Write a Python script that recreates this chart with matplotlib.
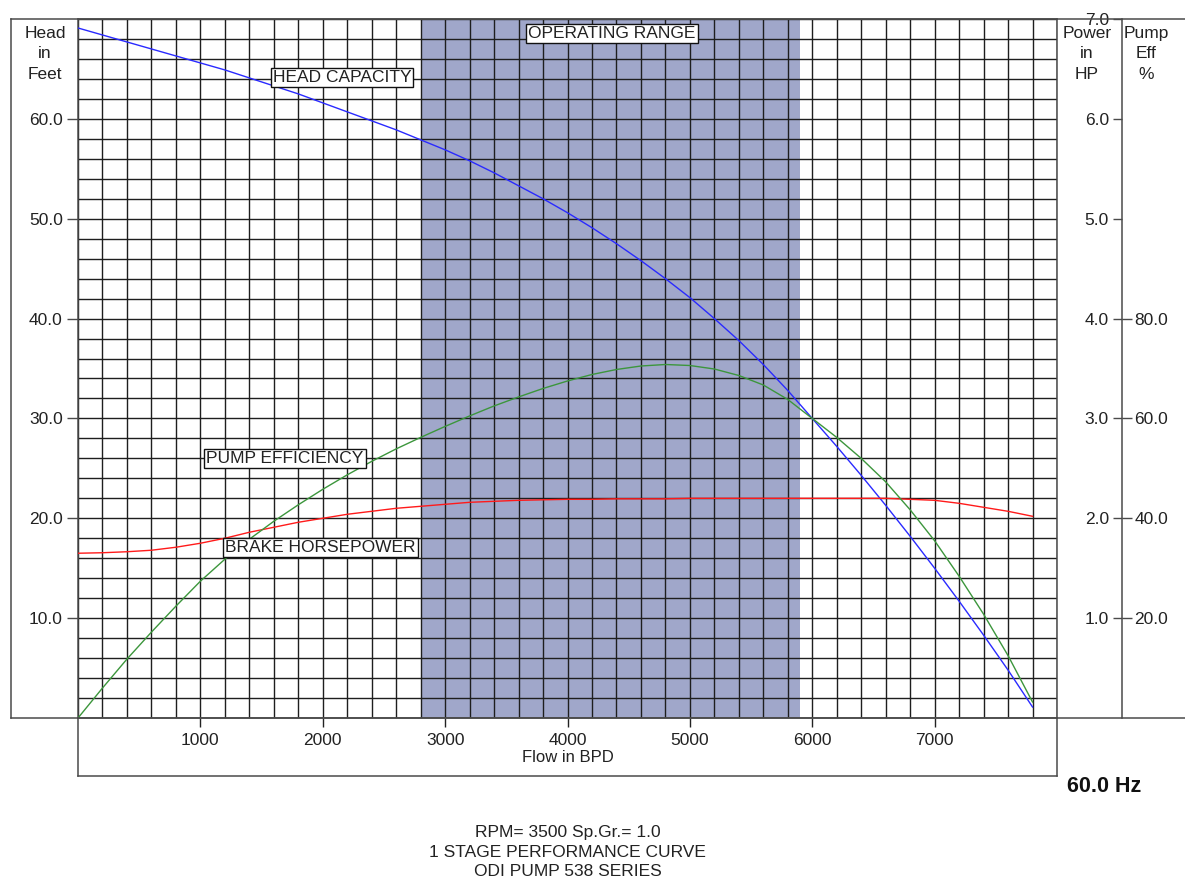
import matplotlib
matplotlib.use("Agg")
import matplotlib.pyplot as plt
from matplotlib.ticker import MultipleLocator, FixedLocator, FormatStrFormatter
from matplotlib.transforms import Affine2D
from matplotlib.lines import Line2D

plt.rcParams['font.family'] = ['Liberation Sans', 'DejaVu Sans']

# ---------------- data ----------------
flow_bpd = [0, 200, 400, 600, 800, 1000, 1200, 1400, 1600, 1800,
            2000, 2200, 2400, 2600, 2800, 3000, 3200, 3400, 3600, 3800,
            4000, 4200, 4400, 4600, 4800, 5000, 5200, 5400, 5600, 5800,
            6000, 6200, 6400, 6600, 6800, 7000, 7200, 7400, 7600, 7800]
head_ft = [69.1, 68.4, 67.7, 67.0, 66.3, 65.6, 64.9, 64.1, 63.3, 62.5,
           61.6, 60.7, 59.8, 58.9, 57.9, 56.9, 55.8, 54.6, 53.3, 52.0,
           50.6, 49.1, 47.5, 45.8, 44.0, 42.1, 40.0, 37.8, 35.4, 32.8,
           30.0, 27.2, 24.3, 21.3, 18.2, 15.0, 11.7, 8.3, 4.8, 1.1]
pump_eff_pct = [0.0, 6.0, 11.8, 17.2, 22.4, 27.4, 31.8, 35.8, 39.4, 42.7,
                45.8, 48.7, 51.4, 53.9, 56.2, 58.4, 60.5, 62.5, 64.3, 66.0,
                67.5, 68.8, 69.8, 70.5, 70.8, 70.6, 69.9, 68.6, 66.7, 63.8,
                60.0, 56.2, 52.0, 47.3, 41.7, 35.5, 28.4, 20.8, 12.5, 3.2]
brake_hp = [1.65, 1.655, 1.665, 1.68, 1.71, 1.75, 1.80, 1.86, 1.91, 1.96,
            2.00, 2.04, 2.07, 2.10, 2.12, 2.14, 2.16, 2.17, 2.18, 2.185,
            2.19, 2.19, 2.195, 2.195, 2.195, 2.20, 2.20, 2.20, 2.20, 2.20,
            2.20, 2.20, 2.20, 2.20, 2.19, 2.18, 2.15, 2.11, 2.07, 2.02]

operating_range = [2800, 5900]
x_ticks = [1000, 2000, 3000, 4000, 5000, 6000, 7000]
head_ticks = [10, 20, 30, 40, 50, 60]
power_ticks = [1, 2, 3, 4, 5, 6, 7]
eff_ticks = [20, 40, 60, 80]
curve_labels = ["HEAD CAPACITY", "PUMP EFFICIENCY", "BRAKE HORSEPOWER", "OPERATING RANGE"]
title_lines = ["RPM= 3500 Sp.Gr.= 1.0", "1 STAGE PERFORMANCE CURVE", "ODI PUMP 538 SERIES"]

# ---------------- layout ----------------
W, H = 1185, 880
fig = plt.figure(figsize=(W / 100, H / 100), dpi=100)
pix = Affine2D().scale(1 / W, -1 / H).translate(0, 1) + fig.transFigure

L, R, T, B = 78, 1057, 19, 718
SEP = 1122
ax = fig.add_axes([L / W, 1 - B / H, (R - L) / W, (B - T) / H])
ax.set_xlim(0, 8000)
ax.set_ylim(0, 70)

TXT = '#222222'
GRID = '#1e1e1e'
FRAME = '#4a4a4a'
FS = 12.5

ax.axvspan(operating_range[0], operating_range[1], color='#A0A7CA', zorder=0, lw=0)

ax.xaxis.set_major_locator(FixedLocator(x_ticks))
ax.xaxis.set_minor_locator(MultipleLocator(200))
ax.yaxis.set_major_locator(FixedLocator(head_ticks))
ax.yaxis.set_minor_locator(MultipleLocator(2))
ax.yaxis.set_major_formatter(FormatStrFormatter('%.1f'))
ax.grid(which='both', color=GRID, lw=1.0)
ax.tick_params(axis='x', which='major', direction='out', length=6.5, width=1.0,
               color=TXT, labelsize=FS, labelcolor=TXT, pad=4)
ax.tick_params(axis='y', which='major', direction='out', length=8, width=1.0,
               color=FRAME, labelsize=FS, labelcolor=TXT, pad=3)
ax.tick_params(which='minor', length=0)
for s in ax.spines.values():
    s.set_color(FRAME)
    s.set_linewidth(1.1)

sep_frac = (SEP - L) / (R - L)

# power axis (labels to the left of separator)
ax_p = ax.twinx()
ax_p.set_ylim(0, 7)
for s in ax_p.spines.values():
    s.set_visible(False)
ax_p.spines['left'].set_visible(True)
ax_p.spines['left'].set_position(('axes', sep_frac))
ax_p.spines['left'].set_color(FRAME)
ax_p.spines['left'].set_linewidth(1.1)
ax_p.yaxis.set_ticks_position('left')
ax_p.yaxis.set_label_position('left')
ax_p.yaxis.set_major_locator(FixedLocator(power_ticks))
ax_p.yaxis.set_major_formatter(FormatStrFormatter('%.1f'))
ax_p.tick_params(axis='y', direction='out', length=6.5, width=1.0, color=FRAME,
                 labelsize=FS, labelcolor=TXT, pad=3)
ax_p.patch.set_visible(False)

# efficiency axis (labels to the right of separator)
ax_e = ax.twinx()
ax_e.set_ylim(0, 140)
for s in ax_e.spines.values():
    s.set_visible(False)
ax_e.spines['right'].set_position(('axes', sep_frac))
ax_e.yaxis.set_ticks_position('right')
ax_e.yaxis.set_major_locator(FixedLocator(eff_ticks))
ax_e.yaxis.set_major_formatter(FormatStrFormatter('%.1f'))
ax_e.tick_params(axis='y', direction='out', length=7, width=1.0, color=FRAME,
                 labelsize=FS, labelcolor=TXT, pad=2)
ax_e.patch.set_visible(False)

# curves
ax.plot(flow_bpd, head_ft, color='#2a2aff', lw=1.0, zorder=5)
ax_p.plot(flow_bpd, brake_hp, color='#ff1a1a', lw=1.0, zorder=5)
ax_e.plot(flow_bpd, pump_eff_pct, color='#3c963c', lw=1.0, zorder=5)

# curve labels (boxed)
box = dict(boxstyle='square,pad=0.12', fc='white', ec='#111111', lw=1.0)
label_pos = [(2157, 64.15), (1691, 25.95), (1981, 17.05), (4365, 68.55)]
for txt, (lx, ly) in zip(curve_labels, label_pos):
    ax_e.text(lx, ly, txt, transform=ax.transData, ha='center', va='center',
              fontsize=FS, color=TXT, bbox=box, zorder=10)

# frame lines
def fline(xs, ys):
    fig.add_artist(Line2D(xs, ys, transform=pix, color=FRAME, lw=1.1))

fline([11, 11], [T, B])
fline([11, W], [T, T])
fline([11, W], [B, B])
fline([L, L], [B, 776])
fline([R, R], [B, 776])
fline([L, R], [776, 776])

# axis titles
for x0, txt in [(45, "Head\nin\nFeet"), (1087, "Power\nin\nHP"), (1146, "Pump\nEff\n%")]:
    fig.text(x0, 54, txt, transform=pix, ha='center', va='center',
             fontsize=FS, color=TXT, linespacing=1.42)
fig.text((L + R) / 2, 757, "Flow in BPD", transform=pix, ha='center', va='center',
         fontsize=FS - 0.5, color=TXT)
fig.text(1104, 786, "60.0 Hz", transform=pix, ha='center', va='center',
         fontsize=15.5, fontweight='bold', color='#111111')
for i, line in enumerate(title_lines):
    fig.text((L + R) / 2, 833 + 19.5 * i, line, transform=pix, ha='center', va='center',
             fontsize=FS, color=TXT)

fig.savefig("out.png", dpi=100)
